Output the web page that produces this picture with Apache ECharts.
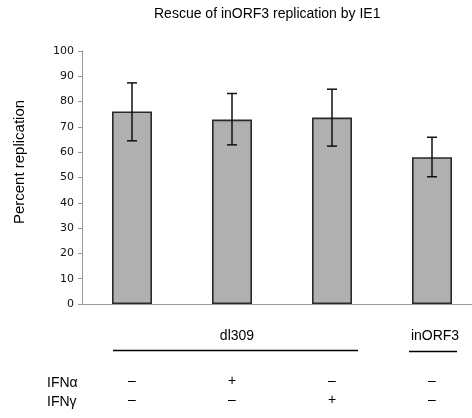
<!DOCTYPE html>
<html>
<head>
<meta charset="utf-8">
<style>
  html, body { margin: 0; padding: 0; background: #fff; }
  #chart { width: 472px; height: 418px; }
</style>
<script src="https://cdn.jsdelivr.net/npm/echarts@6/dist/echarts.min.js"></script>
</head>
<body>
<div id="chart"></div>
<script>
// Four infections: dl309 (untreated, +IFNα, +IFNγ) and inORF3 (untreated)
const categories = ['dl309', 'dl309 IFNα', 'dl309 IFNγ', 'inORF3'];
const replication = [76.1, 72.9, 73.7, 58.0];
const errUpper = [87.4, 83.2, 84.9, 65.9];
const errLower = [64.5, 62.9, 62.4, 50.3];
const ifnAlphaRow = ['–', '+', '–', '–'];
const ifnGammaRow = ['–', '–', '+', '–'];
const yTicks = [0, 10, 20, 30, 40, 50, 60, 70, 80, 90, 100];

const chart = echarts.init(document.getElementById('chart'), null, { renderer: 'canvas' });

const sans = 'Liberation Sans, Arial, sans-serif';
const tickFont = 'DejaVu Sans, Verdana, sans-serif';

function signAxis(rowData, offset) {
  return {
    type: 'category',
    data: rowData,
    position: 'bottom',
    offset: offset,
    axisLine: { show: false },
    axisTick: { show: false },
    axisLabel: { color: '#000', fontSize: 14, fontFamily: sans, margin: 0 },
    splitLine: { show: false }
  };
}

const option = {
  animation: false,
  backgroundColor: '#fff',
  title: {
    text: 'Rescue of inORF3 replication by IE1',
    left: 154, top: 7, padding: 0,
    textStyle: { fontSize: 14, fontWeight: 'normal', color: '#000', fontFamily: sans }
  },
  // the plot area runs past the right edge of the canvas
  grid: { left: 82, top: 51, width: 400, height: 253, outerBoundsMode: 'none' },
  xAxis: [
    {
      type: 'category',
      data: categories,
      axisLine: { lineStyle: { color: '#9a9a9a', width: 1 } },
      axisTick: { show: false },
      axisLabel: { show: false },
      splitLine: { show: false }
    },
    signAxis(ifnAlphaRow, 70),
    signAxis(ifnGammaRow, 89)
  ],
  yAxis: {
    type: 'value',
    min: 0, max: 100, interval: 10,
    axisLine: { show: true, lineStyle: { color: '#9a9a9a', width: 1 } },
    axisTick: { show: true, length: 4, lineStyle: { color: '#9a9a9a' } },
    axisLabel: {
      color: '#111', fontSize: 11, fontFamily: tickFont, margin: 8,
      formatter: v => (yTicks.indexOf(v) >= 0 ? String(v) : '')
    },
    splitLine: { show: false }
  },
  series: [
    {
      type: 'bar',
      data: replication,
      barWidth: 40,
      itemStyle: { color: '#b0b0b0', borderColor: '#2a2a2a', borderWidth: 1.6 }
    },
    {
      type: 'custom',
      data: categories.map((c, i) => [i, errLower[i], errUpper[i]]),
      z: 5,
      renderItem: function (params, api) {
        const i = api.value(0);
        const lo = api.coord([i, api.value(1)]);
        const hi = api.coord([i, api.value(2)]);
        const half = 5;
        const style = { stroke: '#111', lineWidth: 1.5 };
        return {
          type: 'group',
          children: [
            { type: 'line', shape: { x1: hi[0], y1: hi[1], x2: lo[0], y2: lo[1] }, style },
            { type: 'line', shape: { x1: hi[0] - half, y1: hi[1], x2: hi[0] + half, y2: hi[1] }, style },
            { type: 'line', shape: { x1: lo[0] - half, y1: lo[1], x2: lo[0] + half, y2: lo[1] }, style }
          ]
        };
      }
    }
  ],
  graphic: [
    {
      type: 'text', x: 12, y: 162,
      rotation: Math.PI / 2,
      style: { text: 'Percent replication', fontSize: 15, fontFamily: sans, fill: '#000', align: 'center', verticalAlign: 'top' }
    },
    { type: 'text', x: 237, y: 336, style: { text: 'dl309', fontSize: 14, fontFamily: sans, fill: '#000', align: 'center', verticalAlign: 'middle' } },
    { type: 'line', shape: { x1: 113, y1: 350.5, x2: 358, y2: 350.5 }, style: { stroke: '#000', lineWidth: 1.5 } },
    { type: 'text', x: 435, y: 336, style: { text: 'inORF3', fontSize: 14, fontFamily: sans, fill: '#000', align: 'center', verticalAlign: 'middle' } },
    { type: 'line', shape: { x1: 409, y1: 351.5, x2: 457, y2: 351.5 }, style: { stroke: '#000', lineWidth: 1.5 } },
    { type: 'text', x: 47, y: 383, style: { text: 'IFNα', fontSize: 14, fontFamily: sans, fill: '#000', verticalAlign: 'middle' } },
    { type: 'text', x: 47, y: 402, style: { text: 'IFNγ', fontSize: 14, fontFamily: sans, fill: '#000', verticalAlign: 'middle' } }
  ]
};

chart.setOption(option);
</script>
</body>
</html>
